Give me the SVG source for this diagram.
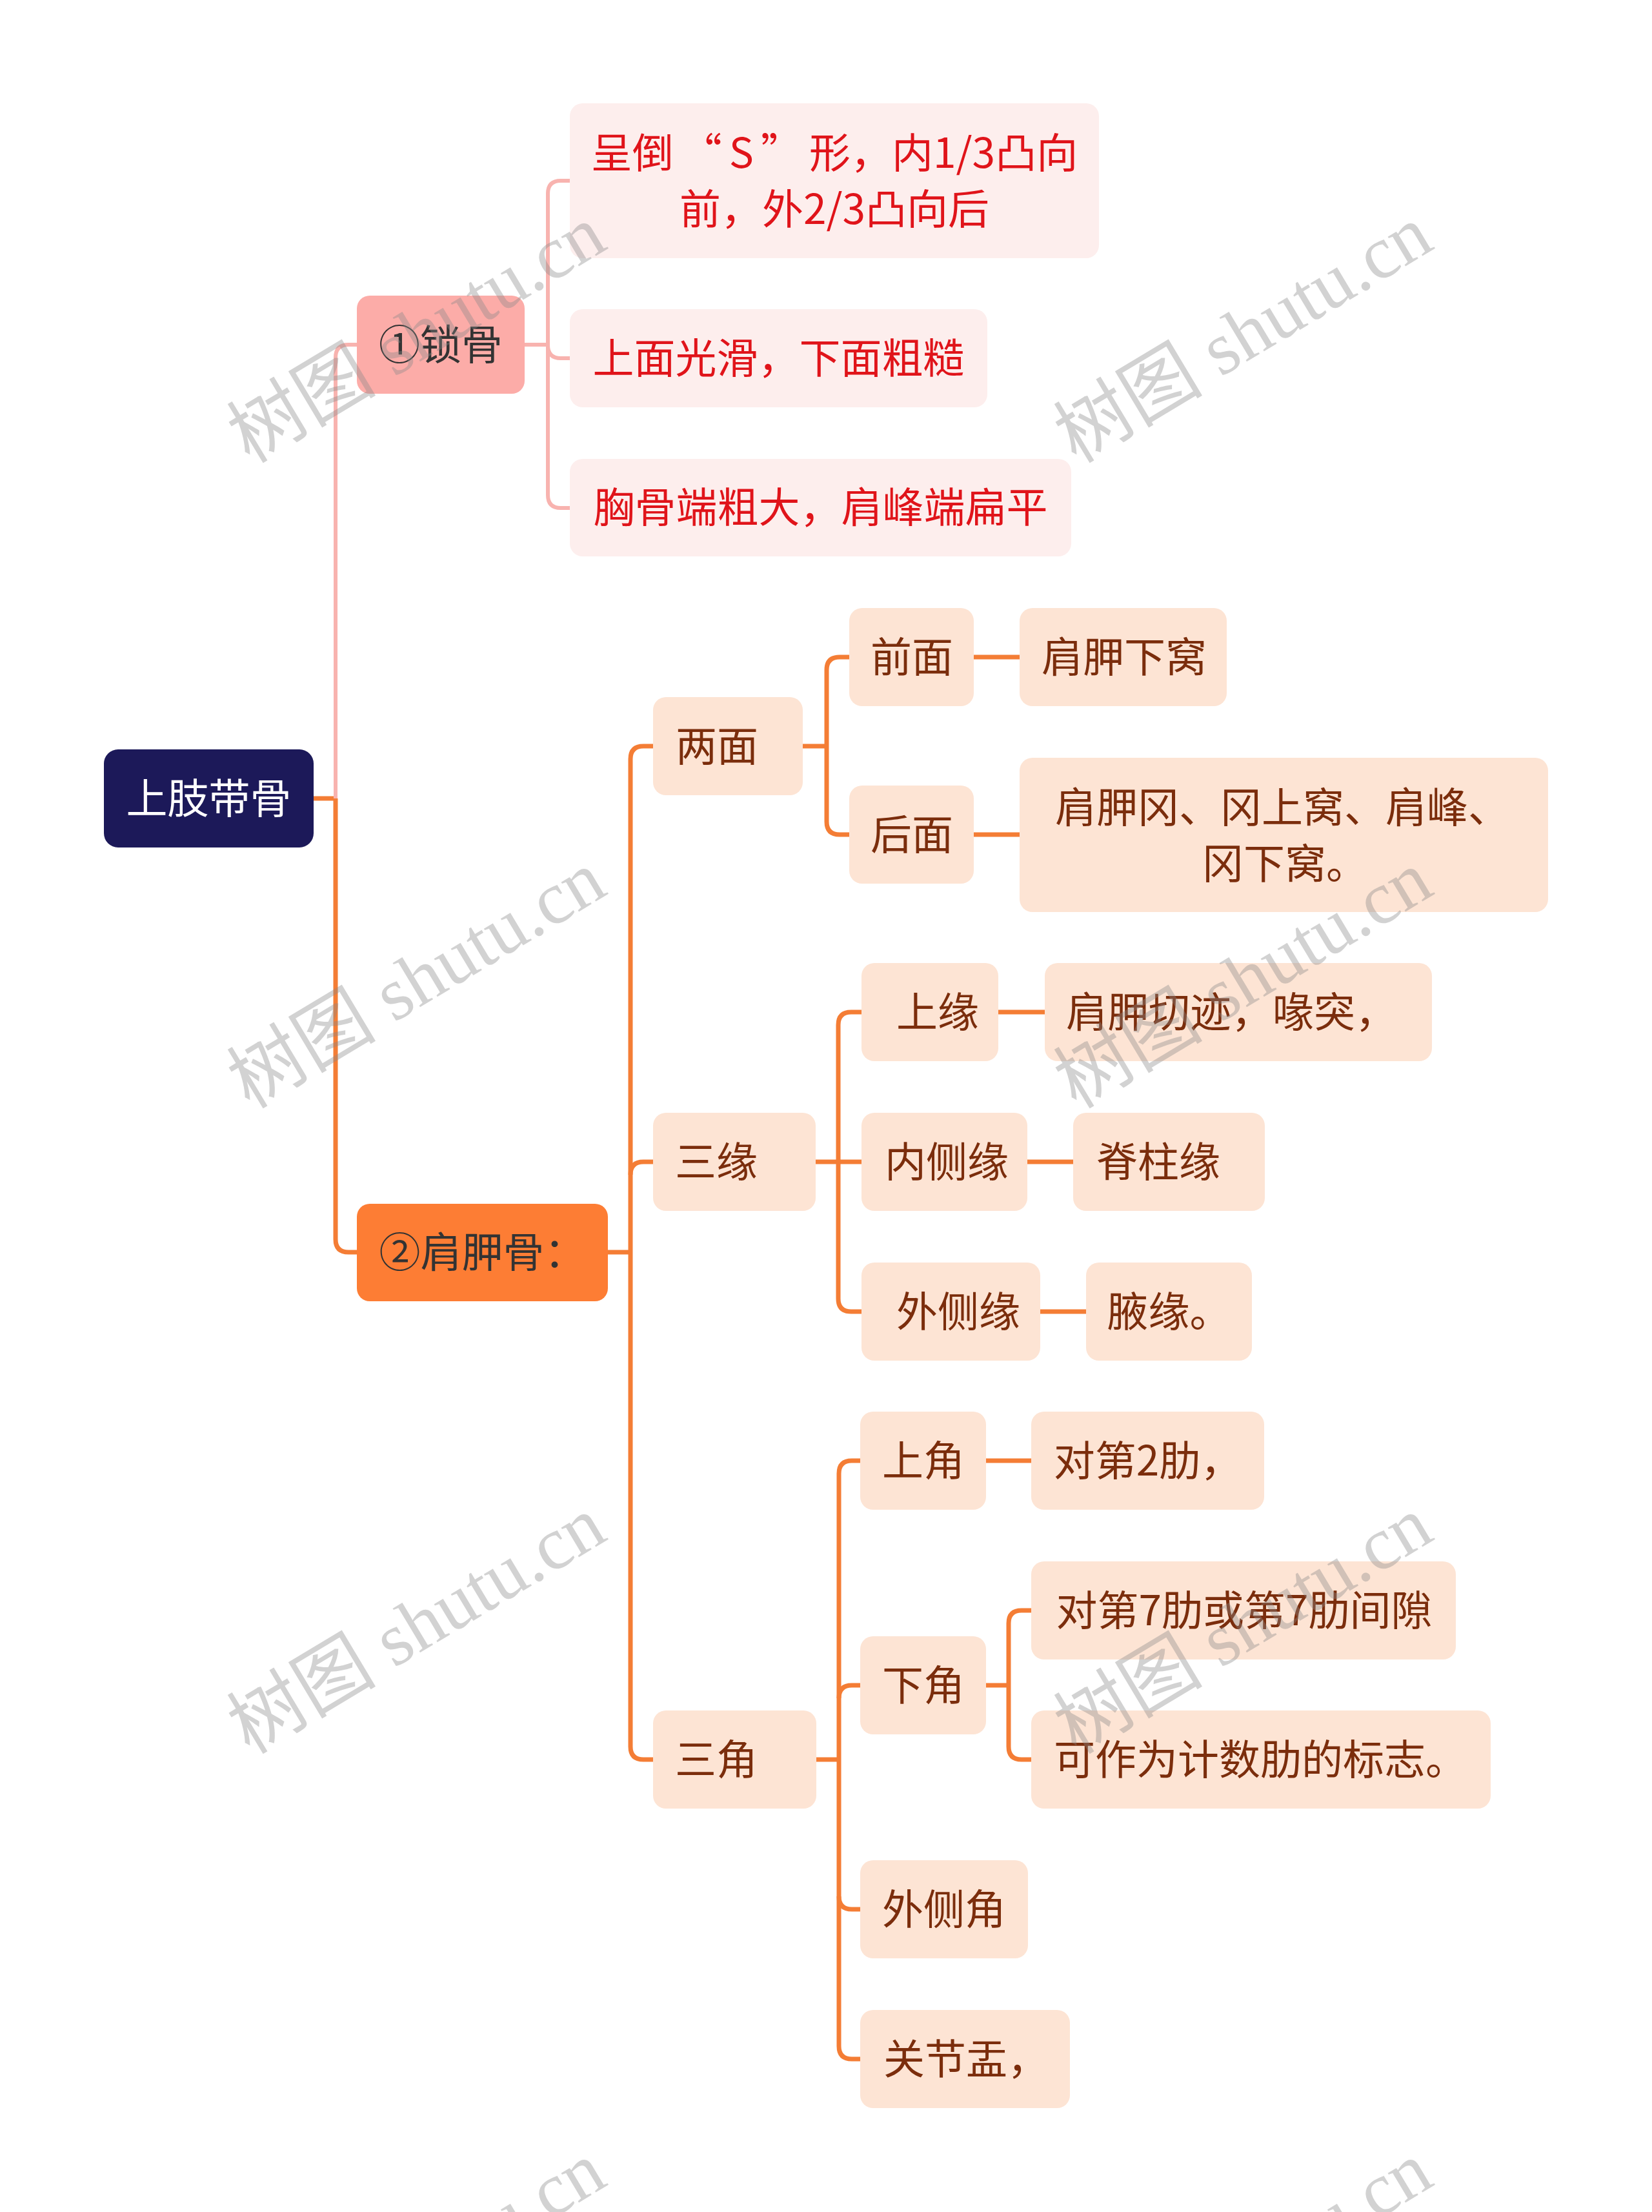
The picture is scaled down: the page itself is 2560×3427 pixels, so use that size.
<svg xmlns="http://www.w3.org/2000/svg" width="2560" height="3427" viewBox="0 0 2560 3427">
<style>
text{font-family:"Noto Sans CJK SC","Noto Sans",sans-serif;font-size:64px;text-anchor:middle}
.root rect{fill:#1c1959}
.root text{fill:#ffffff}
.pk rect{fill:#fcaca8}
.pk text,.or text{fill:#333333}
.or rect{fill:#fd7d34}
.pl rect{fill:#fdeeed}
.pl text{fill:#e0141a}
.lf rect{fill:#fde4d4}
.lf text{fill:#7b2d0c}
.cp{fill:none;stroke:#f8b3af;stroke-width:6}
.co{fill:none;stroke:#f47d35;stroke-width:7}
.wm{font-family:"Liberation Serif","Noto Sans CJK SC",serif;font-size:116px;fill:#8a8a8a;fill-opacity:0.38}
</style>
<rect width="2560" height="3427" fill="#ffffff"/>
<g id="connectors">
<path class="co" d="M486,1237 H520"/>
<path class="cp" d="M520,1237 V554 Q520,534 540,534 H553"/>
<path class="co" d="M520,1237 V1920 Q520,1940 540,1940 H553"/>
<path class="cp" d="M813,534 H849"/>
<path class="cp" d="M883,280 H869 Q849,280 849,300 V767 Q849,787 869,787 H883"/>
<path class="cp" d="M849,535 Q849,555 869,555 H883"/>
<path class="co" d="M942,1940 H977"/>
<path class="co" d="M1012,1156 H997 Q977,1156 977,1176 V2706 Q977,2726 997,2726 H1012"/>
<path class="co" d="M977,1820 Q977,1800 997,1800 H1012"/>
<path class="co" d="M1243,1156 H1281"/>
<path class="co" d="M1316,1018 H1301 Q1281,1018 1281,1038 V1273 Q1281,1293 1301,1293 H1316"/>
<path class="co" d="M1509,1018 H1580"/>
<path class="co" d="M1509,1293 H1580"/>
<path class="co" d="M1264,1800 H1335"/>
<path class="co" d="M1335,1568 H1319 Q1299,1568 1299,1588 V2012 Q1299,2032 1319,2032 H1335"/>
<path class="co" d="M1547,1568 H1619"/>
<path class="co" d="M1592,1800 H1663"/>
<path class="co" d="M1612,2032 H1683"/>
<path class="co" d="M1265,2726 H1300"/>
<path class="co" d="M1333,2263 H1320 Q1300,2263 1300,2283 V3170 Q1300,3190 1320,3190 H1333"/>
<path class="co" d="M1300,2631 Q1300,2611 1320,2611 H1333"/>
<path class="co" d="M1300,2938 Q1300,2958 1320,2958 H1333"/>
<path class="co" d="M1528,2263 H1598"/>
<path class="co" d="M1528,2611 H1563"/>
<path class="co" d="M1598,2495 H1583 Q1563,2495 1563,2515 V2706 Q1563,2726 1583,2726 H1598"/>
</g>
<g id="root" class="root"><rect x="161" y="1161" width="325" height="152" rx="22"/><text x="323.5" y="1260">上肢带骨</text></g>
<g id="n1" class="pk"><rect x="553" y="458" width="260" height="152" rx="20"/><text x="683" y="557">①锁骨</text></g>
<g id="n1a" class="pl"><rect x="883" y="160" width="820" height="240" rx="20"/><text x="1293" y="260">呈倒<tspan dx="11">“</tspan><tspan dx="11">S</tspan><tspan dx="11">”</tspan><tspan dx="11">形，内1/3凸向</tspan></text><text x="1293" y="347">前，外2/3凸向后</text></g>
<g id="n1b" class="pl"><rect x="883" y="479" width="647" height="152" rx="20"/><text x="1206.5" y="578">上面光滑，下面粗糙</text></g>
<g id="n1c" class="pl"><rect x="883" y="711" width="777" height="151" rx="20"/><text x="1271.5" y="809">胸骨端粗大，肩峰端扁平</text></g>
<g id="n2" class="or"><rect x="553" y="1865" width="389" height="151" rx="20"/><text x="747.5" y="1963">②肩胛骨：</text></g>
<g id="n2a" class="lf"><rect x="1012" y="1080" width="232" height="152" rx="20"/><text x="1111" y="1179">两面</text></g>
<g id="n2a1" class="lf"><rect x="1316" y="942" width="193" height="152" rx="20"/><text x="1413" y="1041">前面</text></g>
<g id="n2a1a" class="lf"><rect x="1580" y="942" width="321" height="152" rx="20"/><text x="1742" y="1041">肩胛下窝</text></g>
<g id="n2a2" class="lf"><rect x="1316" y="1217" width="193" height="152" rx="20"/><text x="1413" y="1316">后面</text></g>
<g id="n2a2a" class="lf"><rect x="1580" y="1174" width="819" height="239" rx="20"/><text x="1987" y="1274">肩胛冈、冈上窝、肩峰、</text><text x="1991" y="1361">冈下窝。</text></g>
<g id="n2b" class="lf"><rect x="1012" y="1724" width="252" height="152" rx="20"/><text x="1110" y="1823">三缘</text></g>
<g id="n2b1" class="lf"><rect x="1335" y="1492" width="212" height="152" rx="20"/><text x="1453" y="1591">上缘</text></g>
<g id="n2b1a" class="lf"><rect x="1619" y="1492" width="600" height="152" rx="20"/><text x="1908" y="1591">肩胛切迹，喙突，</text></g>
<g id="n2b2" class="lf"><rect x="1335" y="1724" width="257" height="152" rx="20"/><text x="1467" y="1823">内侧缘</text></g>
<g id="n2b2a" class="lf"><rect x="1663" y="1724" width="297" height="152" rx="20"/><text x="1795" y="1823">脊柱缘</text></g>
<g id="n2b3" class="lf"><rect x="1335" y="1956" width="277" height="152" rx="20"/><text x="1485" y="2055">外侧缘</text></g>
<g id="n2b3a" class="lf"><rect x="1683" y="1956" width="257" height="152" rx="20"/><text x="1811.5" y="2055">腋缘。</text></g>
<g id="n2c" class="lf"><rect x="1012" y="2650" width="253" height="152" rx="20"/><text x="1110" y="2749">三角</text></g>
<g id="n2c1" class="lf"><rect x="1333" y="2187" width="195" height="152" rx="20"/><text x="1431" y="2286">上角</text></g>
<g id="n2c1a" class="lf"><rect x="1598" y="2187" width="361" height="152" rx="20"/><text x="1778.5" y="2286">对第2肋，</text></g>
<g id="n2c2" class="lf"><rect x="1333" y="2535" width="195" height="152" rx="20"/><text x="1431" y="2634">下角</text></g>
<g id="n2c2a" class="lf"><rect x="1598" y="2419" width="658" height="152" rx="20"/><text x="1928" y="2518">对第7肋或第7肋间隙</text></g>
<g id="n2c2b" class="lf"><rect x="1598" y="2650" width="712" height="152" rx="20"/><text x="1953" y="2749">可作为计数肋的标志。</text></g>
<g id="n2c3" class="lf"><rect x="1333" y="2882" width="260" height="152" rx="20"/><text x="1463" y="2981">外侧角</text></g>
<g id="n2c4" class="lf"><rect x="1333" y="3114" width="325" height="152" rx="20"/><text x="1497" y="3213">关节盂，</text></g>
<g id="watermarks">
<text class="wm" transform="translate(646,519) rotate(-31)" y="38">树图 shutu.cn</text>
<text class="wm" transform="translate(1927,519) rotate(-31)" y="38">树图 shutu.cn</text>
<text class="wm" transform="translate(646,1519) rotate(-31)" y="38">树图 shutu.cn</text>
<text class="wm" transform="translate(1927,1519) rotate(-31)" y="38">树图 shutu.cn</text>
<text class="wm" transform="translate(646,2519) rotate(-31)" y="38">树图 shutu.cn</text>
<text class="wm" transform="translate(1927,2519) rotate(-31)" y="38">树图 shutu.cn</text>
<text class="wm" transform="translate(646,3519) rotate(-31)" y="38">树图 shutu.cn</text>
<text class="wm" transform="translate(1927,3519) rotate(-31)" y="38">树图 shutu.cn</text>
</g>
</svg>
